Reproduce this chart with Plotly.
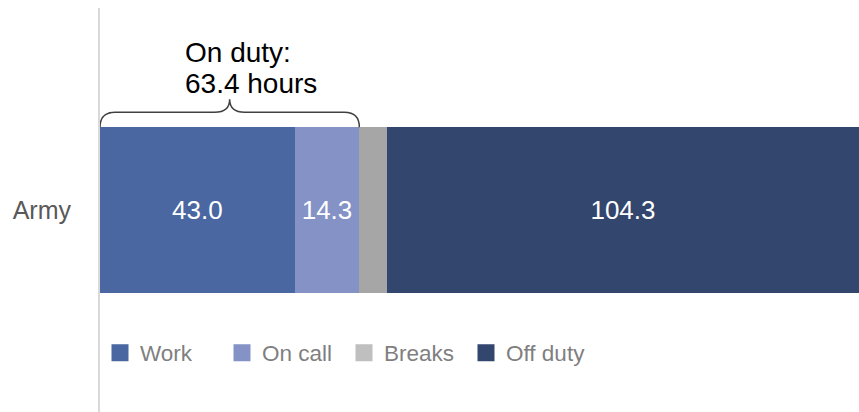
import plotly.graph_objects as go

categories = ["Army"]
series_names = ["Work", "On call", "Breaks", "Off duty"]
work = [43.0]
on_call = [14.3]
breaks = [6.1]
off_duty = [104.3]
on_duty_total = 63.4
bar_colors = ["#4A67A1", "#8492C6", "#A6A6A6", "#32466E"]
legend_colors = ["#4A67A1", "#8492C6", "#BFBFBF", "#32466E"]
show_labels = [True, True, False, True]

values = [work, on_call, breaks, off_duty]
total = sum(v[0] for v in values)
bar_width = 0.41

fig = go.Figure()
for name, vals, col, lab in zip(series_names, values, bar_colors, show_labels):
    fig.add_trace(go.Bar(
        y=categories, x=vals, orientation="h", name=name,
        marker=dict(color=col, line=dict(width=0)),
        width=bar_width,
        text=[f"{v:.1f}" for v in vals] if lab else [""],
        textposition="inside", insidetextanchor="middle",
        textfont=dict(family="Liberation Sans, Arial", size=26, color="white"),
        constraintext="none",
        showlegend=False, hoverinfo="skip",
    ))
# legend entries
for name, col in zip(series_names, legend_colors):
    fig.add_trace(go.Bar(
        y=[None], x=[None], orientation="h", name=name,
        marker=dict(color=col, line=dict(color=col, width=12)),
        showlegend=True,
    ))

# brace above Work + On call
x0 = 0.0
x1 = work[0] + on_call[0]
xm = (x0 + x1) / 2
px_per_x = 759 / total
px_per_y = 404.0
r = 15 / px_per_x
y0 = bar_width / 2
yh = y0 + 15 / px_per_y
yt = y0 + 28 / px_per_y
path = (f"M {x0},{y0} Q {x0},{yh} {x0 + r},{yh} L {xm - r},{yh} "
        f"Q {xm},{yh} {xm},{yt} Q {xm},{yh} {xm + r},{yh} "
        f"L {x1 - r},{yh} Q {x1},{yh} {x1},{y0}")
fig.add_shape(type="path", path=path, xref="x", yref="y",
              line=dict(color="#404040", width=1.5))

fig.add_annotation(x=xm, y=0.891, xref="x", yref="paper", text="On duty:",
                   showarrow=False, xanchor="left", yanchor="middle", xshift=-47,
                   font=dict(family="Liberation Sans, Arial", size=28, color="#000000"))
fig.add_annotation(x=xm, y=0.812, xref="x", yref="paper", text=f"{on_duty_total:.1f} hours",
                   showarrow=False, xanchor="left", yanchor="middle", xshift=-47,
                   font=dict(family="Liberation Sans, Arial", size=28, color="#000000"))

fig.update_layout(
    barmode="stack",
    width=859, height=412,
    margin=dict(l=100, r=0, t=8, b=0),
    paper_bgcolor="white", plot_bgcolor="white",
    xaxis=dict(range=[0, total], visible=False, fixedrange=True),
    yaxis=dict(range=[-0.5, 0.5], showline=True, linecolor="#D9D9D9", linewidth=2,
               showgrid=False, zeroline=False, ticks="", ticklabelstandoff=22,
               tickfont=dict(family="Liberation Sans, Arial", size=25, color="#595959")),
    legend=dict(orientation="h", x=0.0, y=0.146, xanchor="left", yanchor="middle",
                traceorder="normal", entrywidth=77, entrywidthmode="pixels",
                font=dict(family="Liberation Sans, Arial", size=22.5, color="#7F7F7F"),
                bgcolor="rgba(0,0,0,0)"),
    showlegend=True,
)

fig.write_html("out.html")
